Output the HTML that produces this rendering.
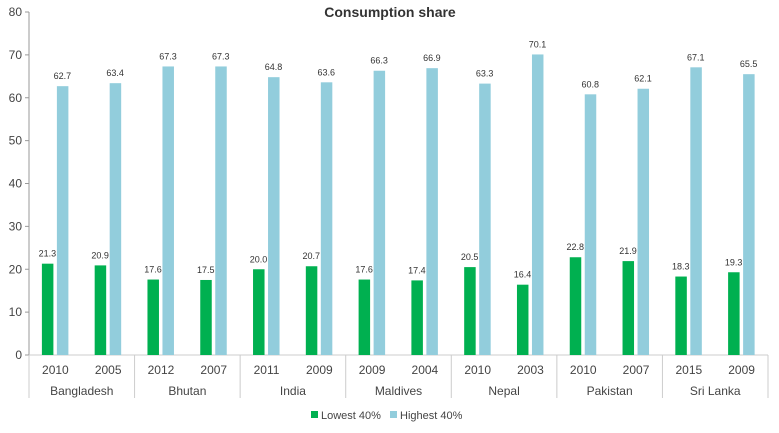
<!DOCTYPE html>
<html><head><meta charset="utf-8"><style>
body{margin:0;background:#fff;font-family:"Liberation Sans",Arial,sans-serif;}
svg text{font-family:"Liberation Sans",Arial,sans-serif;}
</style></head><body>
<svg id="c" width="779" height="428">
<text x="390" y="17" text-anchor="middle" font-size="14" font-weight="bold" fill="#333">Consumption share</text>
</svg>
<script>
const years=["2010","2005","2012","2007","2011","2009","2009","2004","2010","2003","2010","2007","2015","2009"];
const countries=["Bangladesh","Bhutan","India","Maldives","Nepal","Pakistan","Sri Lanka"];
const lowest=[21.3,20.9,17.6,17.5,20.0,20.7,17.6,17.4,20.5,16.4,22.8,21.9,18.3,19.3];
const highest=[62.7,63.4,67.3,67.3,64.8,63.6,66.3,66.9,63.3,70.1,60.8,62.1,67.1,65.5];
const yTicks=[0,10,20,30,40,50,60,70,80];
const svg=document.getElementById('c');const NS='http://www.w3.org/2000/svg';
const x0=29,x1=768,y0=355,y1=12,gw=(x1-x0)/years.length;
const y=v=>y0-(v/80)*(y0-y1);
function mk(t,a,txt){const e=document.createElementNS(NS,t);for(const k in a)e.setAttribute(k,a[k]);if(txt!==undefined)e.textContent=txt;svg.appendChild(e);return e;}
yTicks.forEach(t=>{
const e=mk('text',{x:22,y:y(t)+4,'text-anchor':'end','font-size':12,fill:'#444'},t);


const l=mk('line',{x1:25,x2:x0,y1:y(t),y2:y(t),stroke:'#999'});


});
let ax=mk('line',{x1:x0,x2:x0,y1:y1,y2:y0,stroke:'#999'});


let bx=mk('line',{x1:x0,x2:x1,y1:y0,y2:y0,stroke:'#ccc'});


years.forEach((yr,i)=>{
const cx=x0+gw*(i+0.5);
const g=mk('rect',{x:cx-13.5,y:y(lowest[i]),width:11.5,height:y0-y(lowest[i]),fill:'#00b050'});


const b=mk('rect',{x:cx+1.5,y:y(highest[i]),width:11.5,height:y0-y(highest[i]),fill:'#92cddc'});


const t1=mk('text',{x:cx-8,y:y(lowest[i])-7,'text-anchor':'middle','font-size':9,fill:'#333'},lowest[i].toFixed(1));


const t2=mk('text',{x:cx+7,y:y(highest[i])-7,'text-anchor':'middle','font-size':9,fill:'#333'},highest[i].toFixed(1));


const yl=mk('text',{x:cx,y:374,'text-anchor':'middle','font-size':12,fill:'#444'},yr);


});
countries.forEach((c,j)=>{
const cx=x0+gw*(2*j+1);
const t=mk('text',{x:cx,y:395,'text-anchor':'middle','font-size':12,fill:'#444'},c);


});
for(let j=0;j<=countries.length;j++){
const sx=x0+gw*2*j;
const l=mk('line',{x1:sx,x2:sx,y1:y0,y2:398,stroke:'#ccc'});


}
const lg=[["Lowest 40%","#00b050",311],["Highest 40%","#92cddc",390]];
lg.forEach(([n,c,lx])=>{
const r=mk('rect',{x:lx,y:411,width:7,height:7,fill:c});


const t=mk('text',{x:lx+10,y:419,'font-size':11,fill:'#444'},n);


});
</script>
</body></html>
